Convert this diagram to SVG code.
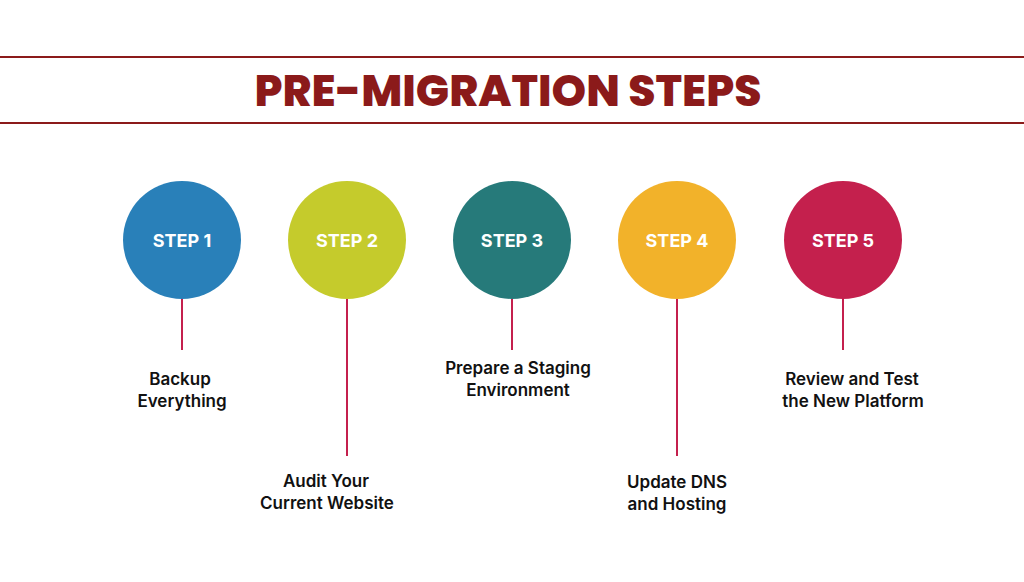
<svg xmlns="http://www.w3.org/2000/svg" width="1024" height="582" viewBox="0 0 1024 582">
<style>
.t{font-family:Poppins,"Inter","Liberation Sans",sans-serif;font-weight:800;fill:#8B1A1A;font-size:44px;text-anchor:middle}
.s{font-family:"Inter","Liberation Sans",sans-serif;font-weight:700;fill:#fff;font-size:18px;text-anchor:middle}
.l{font-family:"Inter","Liberation Sans",sans-serif;font-weight:600;fill:#111;font-size:17px;text-anchor:middle}
.c{stroke:#C4204D;stroke-width:2}
</style>
<rect width="1024" height="582" fill="#fff"/>
<line x1="0" y1="57" x2="1024" y2="57" stroke="#8B1A1A" stroke-width="2"/>
<line x1="0" y1="123" x2="1024" y2="123" stroke="#8B1A1A" stroke-width="2"/>
<text class="t" x="508" y="106">PRE-MIGRATION STEPS</text>
<g id="connectors">
<line class="c" x1="182" y1="299" x2="182" y2="350"/>
<line class="c" x1="347" y1="299" x2="347" y2="456"/>
<line class="c" x1="512" y1="299" x2="512" y2="350"/>
<line class="c" x1="677" y1="299" x2="677" y2="456"/>
<line class="c" x1="843" y1="299" x2="843" y2="350"/>
</g>
<g id="step1"><circle cx="182" cy="240" r="59" fill="#2980B9"/><text class="s" x="182" y="247">STEP 1</text>
<text class="l" x="180" y="385">Backup</text><text class="l" x="182" y="407">Everything</text></g>
<g id="step2"><circle cx="347" cy="240" r="59" fill="#C5CB2C"/><text class="s" x="347" y="247">STEP 2</text>
<text class="l" x="326" y="487">Audit Your</text><text class="l" x="327" y="509">Current Website</text></g>
<g id="step3"><circle cx="512" cy="240" r="59" fill="#267A7A"/><text class="s" x="512" y="247">STEP 3</text>
<text class="l" x="518" y="374">Prepare a Staging</text><text class="l" x="518" y="396">Environment</text></g>
<g id="step4"><circle cx="677" cy="240" r="59" fill="#F2B22A"/><text class="s" x="677" y="247">STEP 4</text>
<text class="l" x="677" y="488">Update DNS</text><text class="l" x="677" y="510">and Hosting</text></g>
<g id="step5"><circle cx="843" cy="240" r="59" fill="#C4204D"/><text class="s" x="843" y="247">STEP 5</text>
<text class="l" x="852" y="385">Review and Test</text><text class="l" x="853" y="407">the New Platform</text></g>
</svg>
